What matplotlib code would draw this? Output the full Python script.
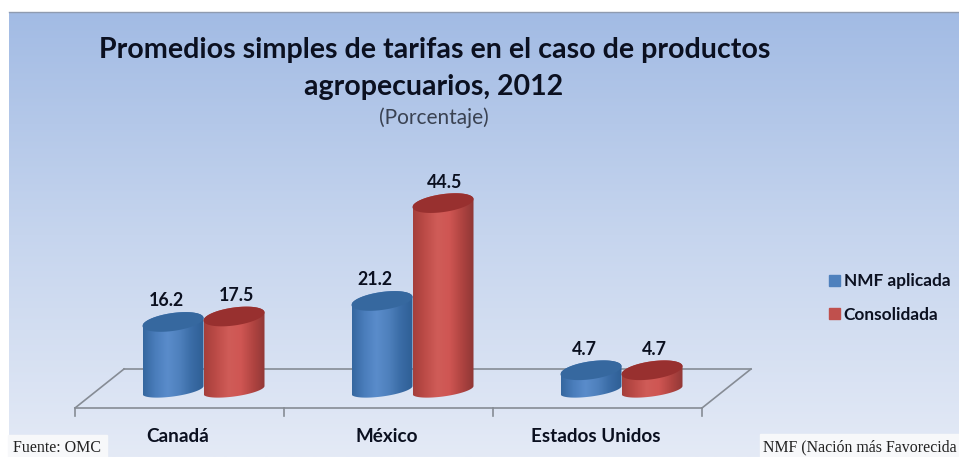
import numpy as np
import matplotlib
matplotlib.use('Agg')
import matplotlib.pyplot as plt
from matplotlib.colors import LinearSegmentedColormap
from matplotlib.patches import Patch, Polygon, Rectangle

categories = ['Canadá', 'México', 'Estados Unidos']
series_names = ['NMF aplicada', 'Consolidada']
nmf_aplicada = [16.2, 21.2, 4.7]
consolidada = [17.5, 44.5, 4.7]

W, H = 959, 457
TEXT = '#0b1020'
FONT = 'Lato'

# pixels per unit on the two axes of the chart
PX_X = 209.0
PX_Y = 4.2
BASE_PX = 390
CENTER0_PX = 203.5


def dx(px):
    return px / PX_X


def dy(px):
    return px / PX_Y


fig = plt.figure(figsize=(W / 100, H / 100), dpi=100, facecolor='white')

# background panel, in pixels
bg = fig.add_axes([0, 0, 1, 1])
bg.set_xlim(0, W)
bg.set_ylim(H, 0)
bg.axis('off')
back_cmap = LinearSegmentedColormap.from_list('back', ['#a2bbe4', '#c6d5ee', '#e4eaf6'])
bg.imshow(np.linspace(0, 1, 256).reshape(-1, 1), cmap=back_cmap, aspect='auto',
          extent=(9, W, H, 12), zorder=0)
bg.set_xlim(0, W)
bg.set_ylim(H, 0)
bg.plot([9, W], [12, 12], color='#8f9bb0', lw=1, zorder=1)

bg.text(435, 50, 'Promedios simples de tarifas en el caso de productos', ha='center', va='center',
        fontsize=20.6, fontweight='bold', family=FONT, color=TEXT)
bg.text(434, 87, 'agropecuarios, 2012', ha='center', va='center',
        fontsize=20.5, fontweight='bold', family=FONT, color=TEXT)
bg.text(434, 118, '(Porcentaje)', ha='center', va='center', fontsize=15, family=FONT, color='#3a4252')

# footnote boxes
bg.add_patch(Rectangle((8, 435), 99, 22, color='#f7f8fa', zorder=2))
bg.add_patch(Rectangle((760, 434), 199, 23, color='#f7f8fa', zorder=2))
bg.text(13, 447.5, 'Fuente: OMC', ha='left', va='center', fontsize=11.5, family='Liberation Serif',
        color='#222222', zorder=3)
bg.text(763, 447.5, 'NMF (Nación más Favorecida', ha='left', va='center', fontsize=11.4,
        family='Liberation Serif', color='#222222', zorder=3, clip_on=True)

# chart, x in category positions and y in percent
ax = fig.add_axes([0, 0, 1, 1])
ax.patch.set_alpha(0)
ax.axis('off')
ax.set_xlim(-CENTER0_PX / PX_X, (W - CENTER0_PX) / PX_X)
ax.set_ylim(-(H - BASE_PX) / PX_Y, BASE_PX / PX_Y)

# floor
n = len(categories)
floor_left = -0.5 - dx(24)
floor_front = dy(-18)
floor_back = dy(21)
shift = dx(49)
floor_color = '#868c95'
front_x = [floor_left, floor_left + n]
ax.plot(front_x, [floor_front, floor_front], color=floor_color, lw=1.2)
ax.plot([front_x[0] + shift, front_x[1] + shift], [floor_back, floor_back], color=floor_color, lw=1.2)
ax.plot([front_x[0], front_x[0] + shift], [floor_front, floor_back], color=floor_color, lw=1.2)
ax.plot([front_x[1], front_x[1] + shift], [floor_front, floor_back], color=floor_color, lw=1.2)
for i in range(n + 1):
    ax.plot([floor_left + i, floor_left + i], [floor_front, floor_front - dy(8)], color=floor_color, lw=1.2)

for i, cat in enumerate(categories):
    ax.text(floor_left + i + 0.5 - dx(2), dy(-47), cat, ha='center', va='center', fontsize=13.6,
            fontweight='bold', family=FONT, color=TEXT)

blue_cmap = LinearSegmentedColormap.from_list('b', ['#35679f', '#4a7dbb', '#5a8ccb', '#4f81bd', '#3a6ca6', '#2f5f95'])
red_cmap = LinearSegmentedColormap.from_list('r', ['#a53f3b', '#bd4c48', '#d05c58', '#cf5653', '#b04441', '#8f3735'])
top_colors = ['#36689f', '#98302f']
label_shift = [-7, 2]


def cylinder(cx, value, cmap, top_color):
    a = dx(30.5)
    t = np.linspace(0, 2 * np.pi, 120)
    tilt = dy(4)
    b_top = dy(9)
    b_bot = dy(6.5)
    # side outline: lower half of the base and upper half of the top ellipse
    t_low = np.linspace(np.pi, 2 * np.pi, 60)
    t_up = np.linspace(0, np.pi, 60)
    low = np.c_[cx + a * np.cos(t_low), b_bot * np.sin(t_low) + tilt * np.cos(t_low)]
    up = np.c_[cx + a * np.cos(t_up), value + b_top * np.sin(t_up) + tilt * np.cos(t_up)]
    side = Polygon(np.r_[low, up], closed=True, fc='none', ec='none', zorder=3)
    ax.add_patch(side)
    im = ax.imshow(np.linspace(0, 1, 128).reshape(1, -1), cmap=cmap, aspect='auto',
                   extent=(cx - a, cx + a, -dy(12), value + dy(12)), zorder=3)
    im.set_clip_path(side)
    top = np.c_[cx + a * np.cos(t), value + b_top * np.sin(t) + tilt * np.cos(t)]
    ax.add_patch(Polygon(top, closed=True, fc=top_color, ec='none', zorder=3))


for i in range(n):
    for j, values in enumerate([nmf_aplicada, consolidada]):
        cx = i + (j - 0.5) * dx(61)
        cmap = blue_cmap if j == 0 else red_cmap
        cylinder(cx, values[i], cmap, top_colors[j])
        ax.text(cx + dx(label_shift[j]), values[i] + dy(21), f'{values[i]:.1f}', ha='center', va='center',
                fontsize=12.8, fontweight='bold', family=FONT, color=TEXT, zorder=4)

ax.set_xlim(-CENTER0_PX / PX_X, (W - CENTER0_PX) / PX_X)
ax.set_ylim(-(H - BASE_PX) / PX_Y, BASE_PX / PX_Y)

handles = [Patch(color='#4f81bd'), Patch(color='#c0504d')]
leg = ax.legend(handles, series_names, loc='center left', bbox_to_anchor=(820.5 / W, 1 - 298 / H),
                frameon=False, handlelength=0.65, handleheight=0.6,
                handletextpad=0.2, labelspacing=1.0, borderpad=0,
                prop={'family': FONT, 'weight': 'bold', 'size': 12.4})
for t in leg.get_texts():
    t.set_color(TEXT)

fig.savefig('out.png', dpi=100)
